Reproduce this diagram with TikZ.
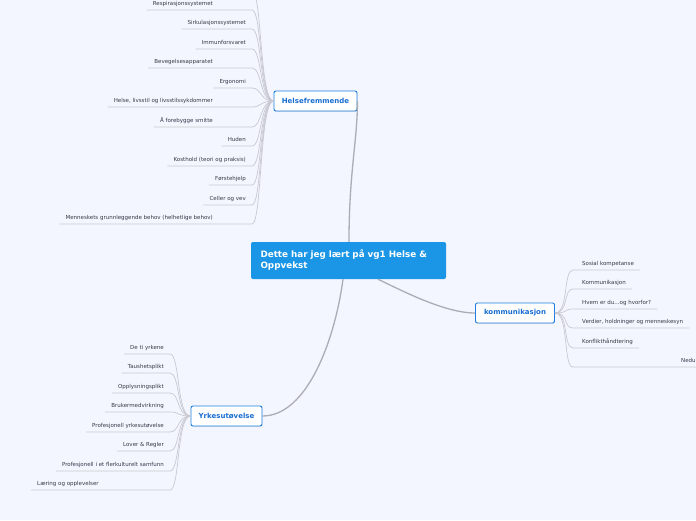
\documentclass[tikz,border=0pt]{standalone}
\usepackage{fontspec}
\usetikzlibrary{positioning,calc,shadows}
\newfontfamily\mapfont{DejaVu Sans}
\definecolor{mapbg}{RGB}{243,246,254}
\definecolor{rootblue}{RGB}{27,149,230}
\definecolor{hubblue}{RGB}{30,125,225}
\definecolor{hubtext}{RGB}{25,110,210}
\definecolor{leafgray}{RGB}{55,58,70}
\definecolor{twiggray}{RGB}{200,201,208}
\definecolor{branchgray}{RGB}{172,173,180}

\begin{document}
\begin{tikzpicture}[x=1pt,y=-1pt,
  root/.style={fill=rootblue,text=white,rounded corners=2pt,minimum height=37pt,text width=176pt,inner xsep=9.5pt,align=left,font=\mapfont\bfseries\fontsize{8.8}{11}\selectfont},
  hub/.style={draw=hubblue,line width=0.9pt,fill=white,rounded corners=2pt,text=hubtext,minimum height=20pt,inner xsep=4pt,font=\mapfont\bfseries\fontsize{7}{8}\selectfont,drop shadow={opacity=0.2,shadow xshift=0.4pt,shadow yshift=-0.8pt}},
  leaf/.style={text=leafgray,inner xsep=6pt,inner ysep=3pt,text height=4pt,text depth=1.3pt,font=\mapfont\fontsize{5.5}{6.5}\selectfont},
  branch/.style={draw=branchgray,line width=1.3pt},
  twig/.style={draw=twiggray,line width=0.7pt}
]
  \useasboundingbox (0,0) rectangle (696,520);
  \fill[mapbg] (0,0) rectangle (696,520);
  \clip (0,0) rectangle (696,520);

  % main topic and the three branches
  \node[root] (root) at (348.5,260.5) {Dette har jeg lært på vg1 Helse \&\\Oppvekst};
  \node[hub,minimum width=83pt] (hf) at (315.5,101) {Helsefremmende};
  \node[hub,minimum width=79pt] (ko) at (515,313) {kommunikasjon};
  \node[hub,minimum width=71pt] (yrk) at (226.5,416) {Yrkesutøvelse};

  \draw[branch] ([xshift=0.5pt]root.north) .. controls +(0,-70) and +(0,40) .. (hf.east);
  \draw[branch] ([xshift=29.5pt]root.south) .. controls +(25,12) and +(-30,0) .. (ko.west);
  \draw[branch] ([xshift=-5.5pt]root.south) .. controls +(-8,60) and +(45,0) .. (yrk.east);

  % Helsefremmende
  \coordinate (hfj) at (252,101);
  \coordinate (hfup) at (252,-9);
  \node[leaf,anchor=south east] (respi) at (219,10) {Respirasjonssystemet};
  \node[leaf,anchor=south east] (sirk) at (252,29) {Sirkulasjonssystemet};
  \node[leaf,anchor=south east] (immun) at (252,49) {Immunforsvaret};
  \node[leaf,anchor=south east] (beveg) at (219,68) {Bevegelsesapparatet};
  \node[leaf,anchor=south east] (ergo) at (252,88) {Ergonomi};
  \node[leaf,anchor=south east] (livsstil) at (219,107) {Helse, livsstil og livsstilssykdommer};
  \node[leaf,anchor=south east] (smitte) at (219,127) {Å forebygge smitte};
  \node[leaf,anchor=south east] (huden) at (252,146) {Huden};
  \node[leaf,anchor=south east] (kost) at (252,166) {Kosthold (teori og praksis)};
  \node[leaf,anchor=south east] (forste) at (252,185) {Førstehjelp};
  \node[leaf,anchor=south east] (celler) at (252,205) {Celler og vev};
  \node[leaf,anchor=south east] (behov) at (219,224) {Menneskets grunnleggende behov (helhetlige behov)};

  \draw[twig] (hfup) .. controls +(10,0) and +(-14,0) .. (hf.west);
  \draw[twig] (respi.south west) -- (respi.south west -| hfj) .. controls +(10,0) and +(-14,0) .. (hf.west);
  \draw[twig] (sirk.south west) -- (sirk.south west -| hfj) .. controls +(10,0) and +(-14,0) .. (hf.west);
  \draw[twig] (immun.south west) -- (immun.south west -| hfj) .. controls +(10,0) and +(-14,0) .. (hf.west);
  \draw[twig] (beveg.south west) -- (beveg.south west -| hfj) .. controls +(10,0) and +(-14,0) .. (hf.west);
  \draw[twig] (ergo.south west) -- (ergo.south west -| hfj) .. controls +(10,0) and +(-14,0) .. (hf.west);
  \draw[twig] (livsstil.south west) -- (livsstil.south west -| hfj) .. controls +(10,0) and +(-14,0) .. (hf.west);
  \draw[twig] (smitte.south west) -- (smitte.south west -| hfj) .. controls +(10,0) and +(-14,0) .. (hf.west);
  \draw[twig] (huden.south west) -- (huden.south west -| hfj) .. controls +(10,0) and +(-14,0) .. (hf.west);
  \draw[twig] (kost.south west) -- (kost.south west -| hfj) .. controls +(10,0) and +(-14,0) .. (hf.west);
  \draw[twig] (forste.south west) -- (forste.south west -| hfj) .. controls +(10,0) and +(-14,0) .. (hf.west);
  \draw[twig] (celler.south west) -- (celler.south west -| hfj) .. controls +(10,0) and +(-14,0) .. (hf.west);
  \draw[twig] (behov.south west) -- (behov.south west -| hfj) .. controls +(10,0) and +(-14,0) .. (hf.west);

  % kommunikasjon
  \coordinate (koj) at (573,313);
  \node[leaf,anchor=south west] (sosial) at (576,270) {Sosial kompetanse};
  \node[leaf,anchor=south west] (kommu) at (576,289) {Kommunikasjon};
  \node[leaf,anchor=south west] (hvem) at (576,309) {Hvem er du...og hvorfor?};
  \node[leaf,anchor=south west] (verdier) at (576,328) {Verdier, holdninger og menneskesyn};
  \node[leaf,anchor=south west] (konflikt) at (576,348) {Konflikthåndtering};
  \node[leaf,anchor=south west,text width=50pt,align=left] (nedu) at (675,367) {Nedu};

  \draw[twig] (ko.east) .. controls +(14,0) and +(-10,0) .. (sosial.south west -| koj) -- (sosial.south east);
  \draw[twig] (ko.east) .. controls +(14,0) and +(-10,0) .. (kommu.south west -| koj) -- (kommu.south east);
  \draw[twig] (ko.east) .. controls +(14,0) and +(-10,0) .. (hvem.south west -| koj) -- (hvem.south east);
  \draw[twig] (ko.east) .. controls +(14,0) and +(-10,0) .. (verdier.south west -| koj) -- (verdier.south east);
  \draw[twig] (ko.east) .. controls +(14,0) and +(-10,0) .. (konflikt.south west -| koj) -- (konflikt.south east);
  \draw[twig] (ko.east) .. controls +(14,0) and +(-10,0) .. (nedu.south west -| koj) -- (nedu.south east);

  % Yrkesutøvelse
  \coordinate (yj) at (170,416);
  \node[leaf,anchor=south east] (deti) at (170,354) {De ti yrkene};
  \node[leaf,anchor=south east] (taus) at (170,373) {Taushetsplikt};
  \node[leaf,anchor=south east] (opply) at (170,393) {Opplysningsplikt};
  \node[leaf,anchor=south east] (bruker) at (170,412) {Brukermedvirkning};
  \node[leaf,anchor=south east] (profy) at (170,432) {Profesjonell yrkesutøvelse};
  \node[leaf,anchor=south east] (lover) at (170,451) {Lover \& Regler};
  \node[leaf,anchor=south east] (proff) at (170,471) {Profesjonell i et flerkulturelt samfunn};
  \node[leaf,anchor=south west] (laering) at (31,490) {Læring og opplevelser};

  \draw[twig] (deti.south west) -- (deti.south west -| yj) .. controls +(10,0) and +(-14,0) .. (yrk.west);
  \draw[twig] (taus.south west) -- (taus.south west -| yj) .. controls +(10,0) and +(-14,0) .. (yrk.west);
  \draw[twig] (opply.south west) -- (opply.south west -| yj) .. controls +(10,0) and +(-14,0) .. (yrk.west);
  \draw[twig] (bruker.south west) -- (bruker.south west -| yj) .. controls +(10,0) and +(-14,0) .. (yrk.west);
  \draw[twig] (profy.south west) -- (profy.south west -| yj) .. controls +(10,0) and +(-14,0) .. (yrk.west);
  \draw[twig] (lover.south west) -- (lover.south west -| yj) .. controls +(10,0) and +(-14,0) .. (yrk.west);
  \draw[twig] (proff.south west) -- (proff.south west -| yj) .. controls +(10,0) and +(-14,0) .. (yrk.west);
  \draw[twig] (laering.south west) -- (laering.south west -| yj) .. controls +(10,0) and +(-14,0) .. (yrk.west);
\end{tikzpicture}
\end{document}
